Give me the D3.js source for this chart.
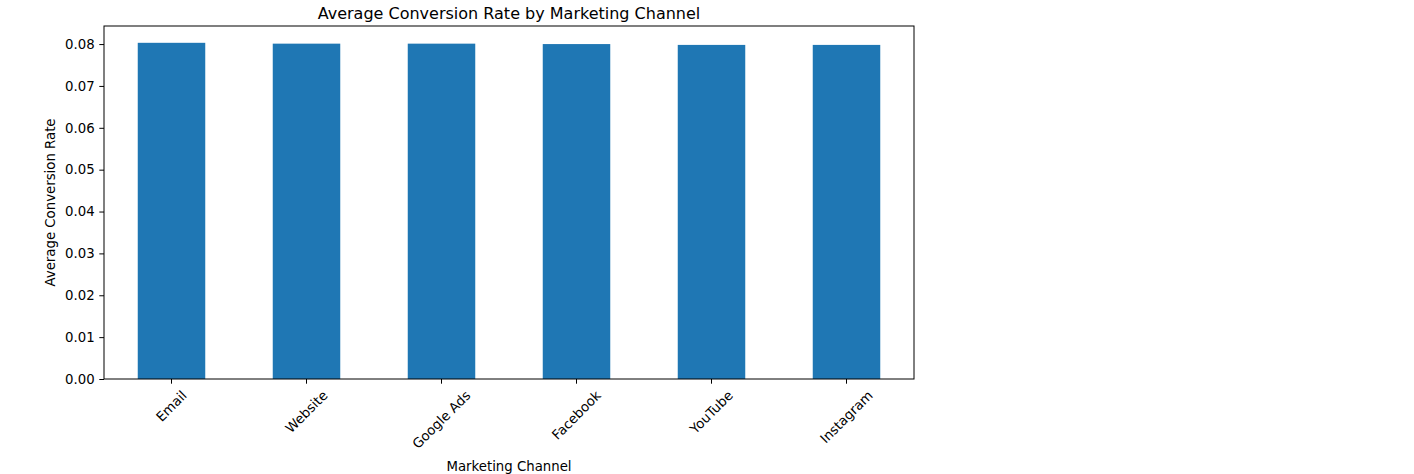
<!DOCTYPE html>
<html>
<head>
<meta charset="utf-8">
<script src="https://cdn.jsdelivr.net/npm/d3@7"></script>
<style>
  body { margin: 0; background: #fff; }
  text { font-family: "DejaVu Sans", sans-serif; fill: #000; }
</style>
</head>
<body>
<div id="chart"></div>
<script>
// channels and average conversion rate
var channels = ["Email", "Website", "Google Ads", "Facebook", "YouTube", "Instagram"];
var rates = [0.0803, 0.0801, 0.0801, 0.0800, 0.0798, 0.0798];
var yTicks = [0, 0.01, 0.02, 0.03, 0.04, 0.05, 0.06, 0.07, 0.08];

var W = 1414, H = 474;
var mLeft = 104, mRight = 914, mTop = 26, mBottom = 379;

var svg = d3.select("#chart").append("svg")
  .attr("width", W).attr("height", H);

// x scale: band per category, bar is half the band (pandas default width 0.5)
var x = d3.scaleBand().domain(channels).range([mLeft, mRight]).paddingInner(0.5).paddingOuter(0.25);
var yMax = d3.max(rates) * 1.05;
var y = d3.scaleLinear().domain([0, yMax]).range([mBottom, mTop]);

svg.selectAll("rect.bar")
  .data(rates)
  .enter()
  .append("rect")
  .attr("class", "bar")
  .attr("x", function(d, i) { return x(channels[i]); })
  .attr("y", function(d) { return y(d); })
  .attr("width", x.bandwidth())
  .attr("height", function(d) { return mBottom - y(d); })
  .style("fill", "#1f77b4");

// frame
svg.append("rect")
  .attr("x", mLeft).attr("y", mTop)
  .attr("width", mRight - mLeft).attr("height", mBottom - mTop)
  .attr("fill", "none").attr("stroke", "#000").attr("stroke-width", 1);

// y axis
var yAxis = svg.append("g").attr("transform", "translate(" + mLeft + ",0)")
  .call(d3.axisLeft(y).tickValues(yTicks).tickFormat(d3.format(".2f")).tickSize(4.7).tickPadding(4.7));
yAxis.select(".domain").remove();
yAxis.selectAll("text").style("font-size", "13.3px").style("font-family", "DejaVu Sans");
yAxis.selectAll("line").attr("stroke", "#000");

// x axis ticks
var xAxis = svg.append("g").attr("transform", "translate(0," + mBottom + ")")
  .call(d3.axisBottom(x).tickSize(4.7).tickFormat(""));
xAxis.select(".domain").remove();
xAxis.selectAll("line").attr("stroke", "#000");

// rotated x labels, bbox centred under the tick
var pad = 4.7 + 4.7;
channels.forEach(function(c) {
  var cx = x(c) + x.bandwidth() / 2;
  var t = svg.append("text")
    .text(c)
    .style("font-size", "13.3px")
    .attr("text-anchor", "middle")
    .attr("dominant-baseline", "central");
  var w = t.node().getComputedTextLength();
  var h = 13.3;
  var bh = (w + h) * Math.SQRT1_2;
  t.attr("transform", "translate(" + cx + "," + (mBottom + pad + bh / 2) + ") rotate(-45)");
});

// title and axis labels
svg.append("text")
  .attr("x", (mLeft + mRight) / 2).attr("y", mTop - 7)
  .attr("text-anchor", "middle")
  .style("font-size", "16px")
  .text("Average Conversion Rate by Marketing Channel");

svg.append("text")
  .attr("x", (mLeft + mRight) / 2).attr("y", 471)
  .attr("text-anchor", "middle")
  .style("font-size", "13.3px")
  .text("Marketing Channel");

svg.append("text")
  .attr("transform", "translate(55," + ((mTop + mBottom) / 2) + ") rotate(-90)")
  .attr("text-anchor", "middle")
  .style("font-size", "13.3px")
  .text("Average Conversion Rate");
</script>
</body>
</html>
